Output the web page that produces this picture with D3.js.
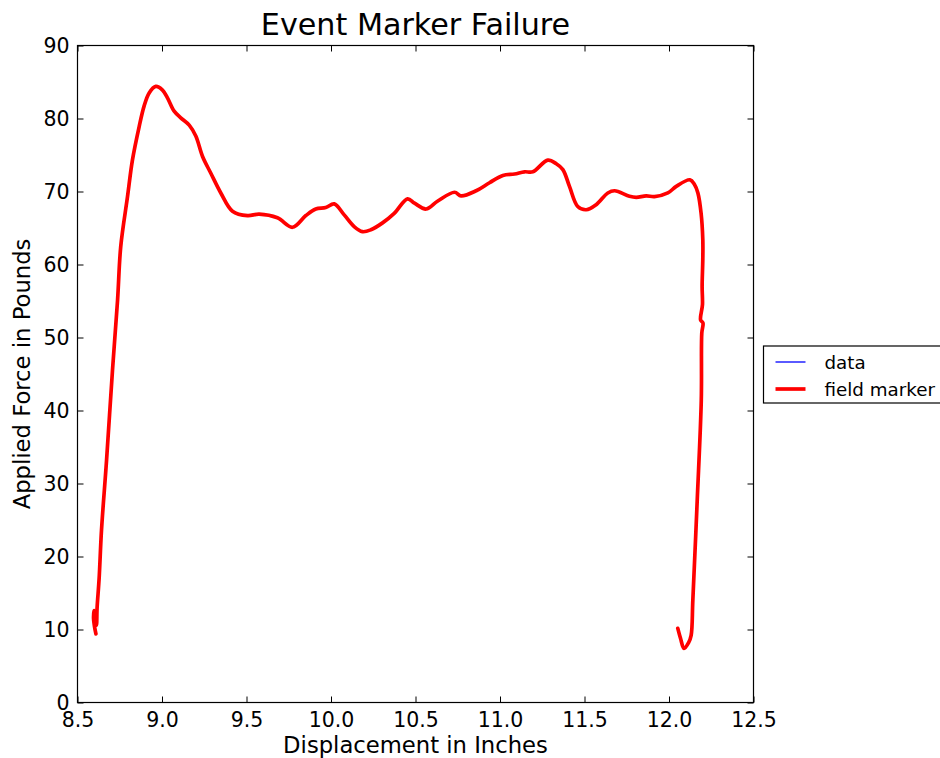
<!DOCTYPE html>
<html>
<head>
<meta charset="utf-8">
<script src="https://cdn.jsdelivr.net/npm/d3@7"></script>
<style>
  html, body { margin: 0; padding: 0; background: #fff; }
  svg { display: block; font-family: "DejaVu Sans", sans-serif; }
</style>
</head>
<body>
<svg id="chart" width="940" height="758"></svg>
<script>
// Force vs. displacement trace of the field marker test (inches, pounds)
const displacement = [
  8.609, 8.600, 8.595, 8.598, 8.603, 8.612, 8.616, 8.628, 8.642, 8.672,
  8.707, 8.737, 8.756, 8.796, 8.825, 8.865, 8.894, 8.924, 8.963, 9.003,
  9.033, 9.072, 9.111, 9.161, 9.200, 9.240, 9.289, 9.348, 9.417, 9.506,
  9.575, 9.683, 9.772, 9.851, 9.910, 9.969, 10.019, 10.078, 10.137, 10.186,
  10.236, 10.305, 10.374, 10.453, 10.494, 10.563, 10.632, 10.731, 10.770, 10.859,
  10.938, 11.017, 11.086, 11.145, 11.194, 11.283, 11.333, 11.372, 11.411, 11.460,
  11.510, 11.569, 11.638, 11.678, 11.766, 11.806, 11.865, 11.914, 11.993, 12.043,
  12.124, 12.150, 12.171, 12.190, 12.200, 12.200, 12.196, 12.198, 12.187, 12.201,
  12.194, 12.191, 12.167, 12.141, 12.131, 12.116, 12.089, 12.068, 12.052
];
const force = [
  9.4, 10.5, 11.5, 12.6, 11.8, 10.6, 13.0, 17.0, 23.6, 33.2,
  45.5, 55.1, 62.5, 69.3, 74.3, 78.9, 81.7, 83.5, 84.4, 83.9,
  82.8, 81.0, 80.1, 79.1, 77.6, 74.8, 72.5, 69.8, 67.3, 66.7,
  66.9, 66.4, 65.1, 66.7, 67.6, 67.8, 68.3, 66.8, 65.2, 64.5,
  64.75, 65.7, 67.0, 69.0, 68.4, 67.6, 68.7, 69.9, 69.4, 70.1,
  71.2, 72.2, 72.4, 72.7, 72.7, 74.3, 73.8, 73.0, 70.7, 67.95,
  67.5, 68.2, 69.8, 70.1, 69.35, 69.2, 69.4, 69.3, 69.8, 70.7,
  71.6, 71.0, 69.8, 67.0, 63.4, 60.7, 57.0, 54.5, 52.4, 52.0,
  50.6, 41.4, 27.7, 14.0, 9.2, 8.2, 7.4, 8.8, 10.15
];
// The raw data trace follows the same path and sits beneath the marker trace
const dataDisplacement = displacement;
const dataForce = force;

const xTicks = [8.5, 9.0, 9.5, 10.0, 10.5, 11.0, 11.5, 12.0, 12.5];
const yTicks = [0, 10, 20, 30, 40, 50, 60, 70, 80, 90];
const seriesNames = ["data", "field marker"];

const svg = d3.select("#chart");
const plotLeft = 77.5, plotRight = 753.5, plotTop = 45.5, plotBottom = 702.5;

const x = d3.scaleLinear().domain([8.5, 12.5]).range([plotLeft, plotRight]);
const y = d3.scaleLinear().domain([0, 90]).range([plotBottom, plotTop]);

const line = (xs, ys) => d3.line()
  .x((d, i) => x(xs[i]))
  .y((d, i) => y(ys[i]))
  .curve(d3.curveCatmullRom.alpha(0.5))(xs);

svg.append("clipPath").attr("id", "plotclip")
  .append("rect").attr("x", plotLeft).attr("y", plotTop)
  .attr("width", plotRight - plotLeft).attr("height", plotBottom - plotTop);

const plot = svg.append("g").attr("clip-path", "url(#plotclip)");
plot.append("path").attr("d", line(dataDisplacement, dataForce))
  .attr("fill", "none").attr("stroke", "#0000ff").attr("stroke-width", 1.3);
plot.append("path").attr("d", line(displacement, force))
  .attr("fill", "none").attr("stroke", "#ff0000").attr("stroke-width", 3.7)
  .attr("stroke-linejoin", "round").attr("stroke-linecap", "round");

// Axes with inward ticks on all four sides
const tickLen = 6;
const fmt = d3.format(".1f");
const bottomAxis = d3.axisBottom(x).tickValues(xTicks).tickSizeInner(-tickLen).tickSizeOuter(0).tickPadding(10).tickFormat(fmt);
const topAxis = d3.axisTop(x).tickValues(xTicks).tickSizeInner(-tickLen).tickSizeOuter(0).tickFormat("");
const leftAxis = d3.axisLeft(y).tickValues(yTicks).tickSizeInner(-tickLen).tickSizeOuter(0).tickPadding(8).tickFormat(d3.format("d"));
const rightAxis = d3.axisRight(y).tickValues(yTicks).tickSizeInner(-tickLen).tickSizeOuter(0).tickFormat("");

function styleAxis(g) {
  g.select(".domain").remove();
  g.selectAll(".tick line").attr("stroke", "#000").attr("stroke-width", 1);
  g.selectAll(".tick text").attr("fill", "#000").attr("font-size", 20.5)
    .attr("font-family", "DejaVu Sans");
}
svg.append("g").attr("transform", `translate(0,${plotBottom})`).call(bottomAxis).call(styleAxis);
svg.append("g").attr("transform", `translate(0,${plotTop})`).call(topAxis).call(styleAxis);
svg.append("g").attr("transform", `translate(${plotLeft},0)`).call(leftAxis).call(styleAxis);
svg.append("g").attr("transform", `translate(${plotRight},0)`).call(rightAxis).call(styleAxis);

svg.append("rect").attr("x", plotLeft).attr("y", plotTop)
  .attr("width", plotRight - plotLeft).attr("height", plotBottom - plotTop)
  .attr("fill", "none").attr("stroke", "#000").attr("stroke-width", 1.2);

// Titles
svg.append("text").attr("x", (plotLeft + plotRight) / 2).attr("y", 35)
  .attr("text-anchor", "middle").attr("font-size", 30.2).attr("fill", "#000")
  .text("Event Marker Failure");
svg.append("text").attr("x", (plotLeft + plotRight) / 2).attr("y", 753)
  .attr("text-anchor", "middle").attr("font-size", 22.7).attr("fill", "#000")
  .text("Displacement in Inches");
svg.append("text").attr("transform", `translate(30,${(plotTop + plotBottom) / 2}) rotate(-90)`)
  .attr("text-anchor", "middle").attr("font-size", 22.7).attr("fill", "#000")
  .text("Applied Force in Pounds");

// Legend
const legend = svg.append("g").attr("transform", "translate(763.5,346)");
legend.append("rect").attr("width", 200).attr("height", 57)
  .attr("fill", "#fff").attr("stroke", "#000").attr("stroke-width", 1.2);
const legendStyles = [
  { color: "#0000ff", width: 1.3 },
  { color: "#ff0000", width: 3.7 }
];
seriesNames.forEach((name, i) => {
  const yy = 16 + i * 27;
  legend.append("line").attr("x1", 12).attr("x2", 42).attr("y1", yy).attr("y2", yy)
    .attr("stroke", legendStyles[i].color).attr("stroke-width", legendStyles[i].width);
  legend.append("text").attr("x", 61).attr("y", yy + 6.5)
    .attr("font-size", 18.3).attr("fill", "#000").text(name);
});
</script>
</body>
</html>
